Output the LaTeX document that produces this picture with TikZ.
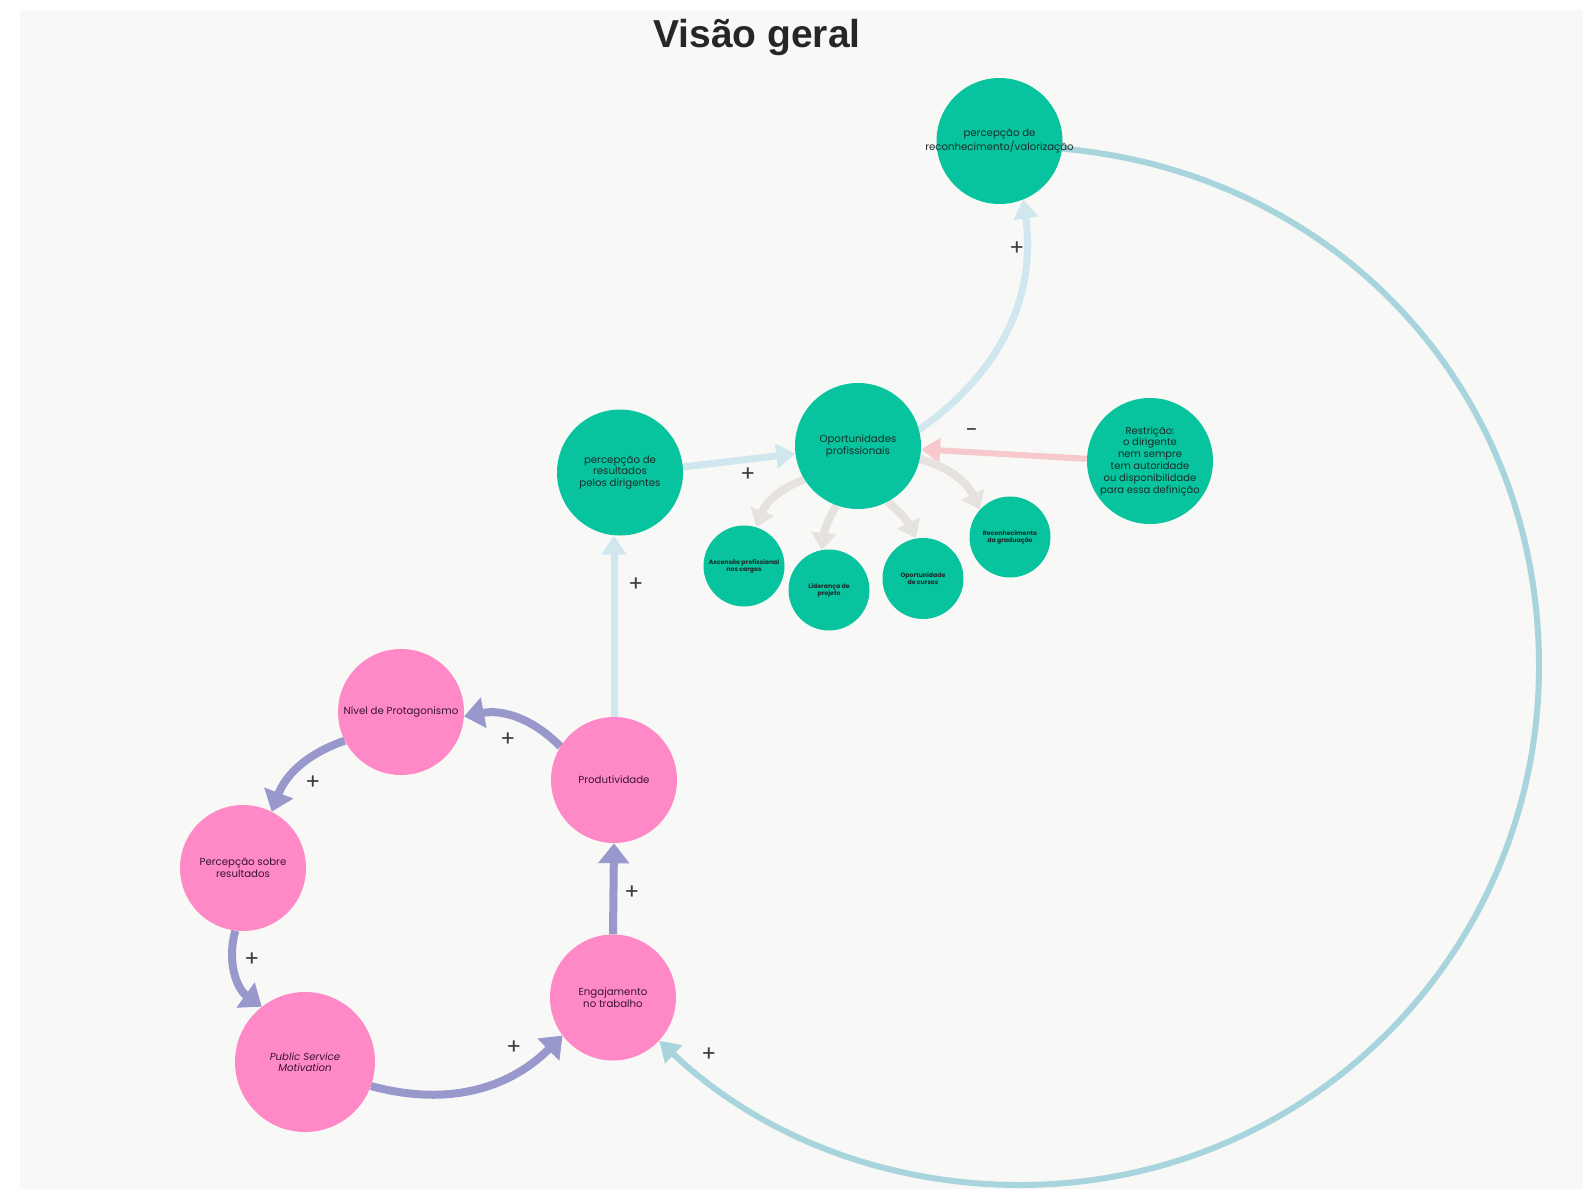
\documentclass[tikz,border=0pt]{standalone}
\usepackage{fontspec}
\setmainfont{Poppins}
\newfontfamily\titlefont{Liberation Sans}
\usetikzlibrary{arrows.meta,calc}

\definecolor{paper}{RGB}{248,248,246}
\definecolor{tealfill}{RGB}{8,196,158}
\definecolor{tealtext}{RGB}{28,44,42}
\definecolor{pinkfill}{RGB}{255,137,198}
\definecolor{pinktext}{RGB}{58,20,48}
\definecolor{loopviolet}{RGB}{152,152,204}
\definecolor{paleblue}{RGB}{208,231,239}
\definecolor{loopblue}{RGB}{168,213,221}
\definecolor{palered}{RGB}{247,200,204}
\definecolor{palegray}{RGB}{229,226,223}
\definecolor{signgray}{RGB}{60,60,60}

\pgfdeclarelayer{canvas}
\pgfdeclarelayer{links}
\pgfsetlayers{canvas,links,main}

\begin{document}
\begin{tikzpicture}[x=1pt,y=1pt,
  bubble/.style={circle, inner sep=0pt, minimum size=126pt, align=center,
    font=\fontsize{10.2}{11.6}\selectfont},
  tealnode/.style={bubble, fill=tealfill, text=tealtext},
  pinknode/.style={bubble, fill=pinkfill, text=pinktext},
  smallnode/.style={circle, inner sep=0pt, minimum size=81pt, align=center,
    fill=tealfill, text=tealtext, font=\bfseries\fontsize{6.2}{7}\selectfont},
  violetarrow/.style={draw=loopviolet, line width=8pt,
    -{Triangle[width=30pt,length=20pt]}},
  bluearrow/.style={draw=paleblue, line width=7pt,
    -{Triangle[width=24pt,length=19pt]}},
  returnarrow/.style={draw=loopblue, line width=6pt,
    -{Triangle[width=24pt,length=20pt]}},
  redarrow/.style={draw=palered, line width=6pt,
    -{Triangle[width=24pt,length=19pt]}},
  grayarrow/.style={draw=palegray, line width=8pt,
    -{Triangle[width=24pt,length=17pt]}},
  sign/.style={text=signgray, font=\fontsize{22}{22}\selectfont, inner sep=0pt}
]
% canvas
\useasboundingbox (0,0) rectangle (1583,-1189);
\begin{pgfonlayer}{canvas}
  \fill[white] (0,0) rectangle (1583,-1189);
  \fill[paper] (20,-10) rectangle (1583,-1189);
\end{pgfonlayer}

% title
\node[anchor=base, font=\titlefont\bfseries\fontsize{39}{39}\selectfont, text=black!85]
  (title) at (757,-47.5) {Visão geral};

% green nodes (the wide label may overhang its circle)
\node[tealnode, inner sep=-16pt] (reco)  at (999.5,-141) {percepção de\\reconhecimento/valorização};
\node[tealnode] (opp)   at (858,-446)   {Oportunidades\\profissionais};
\node[tealnode] (resd)  at (620,-472.5) {percepção de\\resultados\\pelos dirigentes};
\node[tealnode, inner sep=-4pt, font=\fontsize{10}{11.8}\selectfont] (restr) at (1150,-461)
  {Restrição:\\o dirigente\\nem sempre\\tem autoridade\\ou disponibilidade\\para essa definição};

\node[smallnode] (asc)  at (744,-566)   {Ascensão profissional\\nos cargos};
\node[smallnode] (lid)  at (829,-590)   {Liderança de\\projeto};
\node[smallnode] (cur)  at (923,-578.5) {Oportunidade\\de cursos};
\node[smallnode] (grad) at (1010,-537)  {Reconhecimento\\da graduação};

% pink nodes
\node[pinknode] (niv)  at (401,-712)  {Nível de Protagonismo};
\node[pinknode] (prod) at (614,-780)  {Produtividade};
\node[pinknode] (pso)  at (243,-868)  {Percepção sobre\\resultados};
\node[pinknode] (eng)  at (613,-997.5) {Engajamento\\no trabalho};
\node[pinknode, minimum size=140pt] (psm) at (305,-1062) {\itshape Public Service\\\itshape Motivation};

\begin{pgfonlayer}{links}
% reinforcing loop
\draw[violetarrow] (eng.north) -- (prod.south);
\draw[violetarrow] (prod.148) to[bend right=28] (niv.-4);
\draw[violetarrow] (niv.207) to[bend right=25] (pso.63);
\draw[violetarrow] (pso.263) to[bend right=35] (psm.128);
\draw[violetarrow] (psm.-20) to[bend right=30] (eng.217);

% links towards the green nodes
\draw[bluearrow] (prod.north) -- (prod.north |- resd.south);
\draw[bluearrow] (resd.5) -- (opp.187);
\draw[bluearrow] (opp.15) to[out=35, in=-82] (reco.-68);
\draw[redarrow] (restr.178) -- (opp.-3);

% branches to the professional opportunities
\draw[grayarrow] (opp.212) to[bend right=25] (asc.72);
\draw[grayarrow] (opp.250) to[bend right=12] (lid.100);
\draw[grayarrow] (opp.298) to[bend left=12] (cur.100);
\draw[grayarrow] (opp.-12) to[bend left=25] (grad.138);

% long return link
\coordinate (loopE) at (1539,-666);
\coordinate (loopS) at (1020,-1185);
\draw[returnarrow] (reco.-7) to[out=-5, in=90] (loopE)
  to[out=-90, in=0] (loopS) to[out=180, in=-43.5, looseness=0.9] (eng.-43);
\end{pgfonlayer}

% polarity signs
\node[sign] (s1)  at (1017,-249) {+};
\node[sign] (s2)  at (748,-475)  {+};
\node[sign] (s3)  at (636,-585)  {+};
\node[sign] (s4)  at (972,-433)  {-};
\node[sign] (s5)  at (508,-740)  {+};
\node[sign] (s6)  at (313,-783)  {+};
\node[sign] (s7)  at (252,-960)  {+};
\node[sign] (s8)  at (632,-893)  {+};
\node[sign] (s9)  at (514,-1048) {+};
\node[sign] (s10) at (709,-1055) {+};
\end{tikzpicture}
\end{document}
